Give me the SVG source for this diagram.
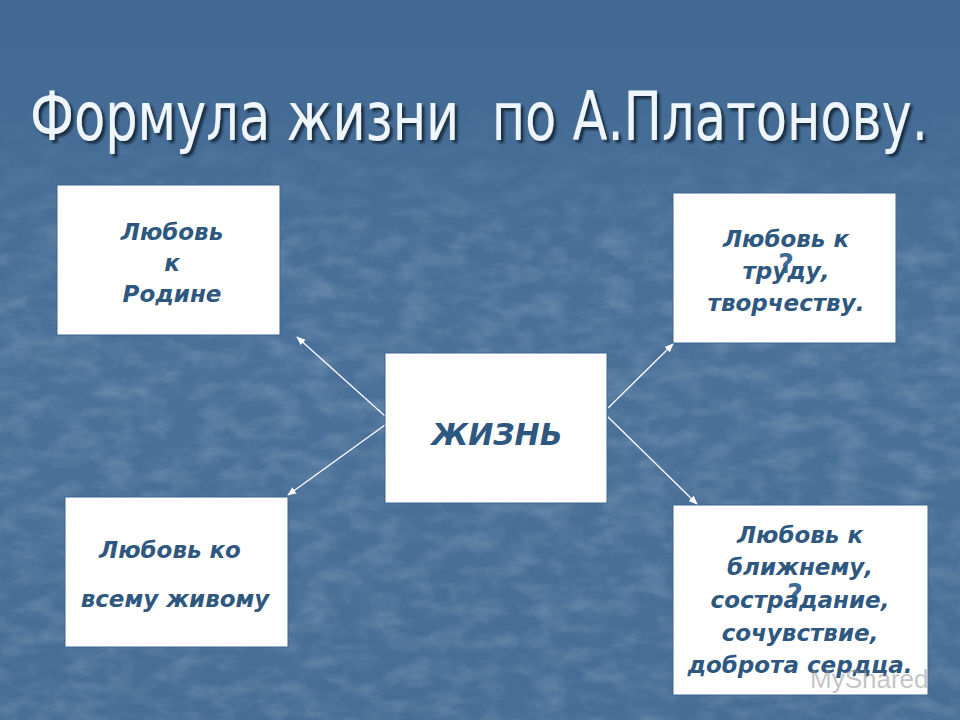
<svg xmlns="http://www.w3.org/2000/svg" width="960" height="720" viewBox="0 0 960 720">
<defs>
<linearGradient id="bg" x1="0" y1="0" x2="0" y2="1">
<stop offset="0" stop-color="#416993"/>
<stop offset="0.5" stop-color="#4a719a"/>
<stop offset="1" stop-color="#466d96"/>
</linearGradient>
<linearGradient id="fade" x1="0" y1="0" x2="0" y2="1">
<stop offset="0" stop-color="#000"/>
<stop offset="0.14" stop-color="#000"/>
<stop offset="0.35" stop-color="#fff"/>
<stop offset="1" stop-color="#fff"/>
</linearGradient>
<mask id="m" maskUnits="userSpaceOnUse" x="0" y="0" width="960" height="720">
<rect width="960" height="720" fill="url(#fade)"/>
</mask>
<filter id="tex" x="0" y="0" width="100%" height="100%">
<feTurbulence type="fractalNoise" baseFrequency="0.03 0.06" numOctaves="4" seed="7" result="n"/>
<feColorMatrix in="n" type="matrix" values="0 0 0 0 1  0 0 0 0 1  0 0 0 0 1  0 0 0 0.3 -0.11" result="w"/>
<feComposite in="w" in2="SourceGraphic" operator="in"/>
</filter>
<filter id="shadow" x="-10%" y="-40%" width="120%" height="180%">
<feDropShadow dx="3" dy="3" stdDeviation="1" flood-color="#102030" flood-opacity="0.8"/>
</filter>
<marker id="ah" viewBox="0 0 10 10" refX="9" refY="5" markerWidth="9" markerHeight="9" markerUnits="userSpaceOnUse" orient="auto">
<path d="M0,1 L10,5 L0,9 Z" fill="#ffffff"/>
</marker>
<style>
.box{fill:#ffffff;stroke:#3e6690;stroke-width:1}
.t{font-family:"DejaVu Sans","Liberation Sans",sans-serif;font-weight:bold;font-style:italic;font-size:23px;fill:#2e5880;text-anchor:middle}
.q{font-family:"DejaVu Sans","Liberation Sans",sans-serif;font-weight:bold;font-size:27px;fill:#3d6a96;text-anchor:middle}
.conn line{stroke:#ffffff;stroke-width:1.3;marker-end:url(#ah)}
</style>
</defs>
<rect width="960" height="720" fill="url(#bg)"/>
<g mask="url(#m)">
<rect width="960" height="720" fill="#ffffff" filter="url(#tex)"/>
</g>
<text x="30" y="140" xml:space="preserve" font-family="'DejaVu Sans Condensed','Liberation Sans Narrow','DejaVu Sans',sans-serif" font-size="68" fill="#eef6fb" textLength="898" lengthAdjust="spacingAndGlyphs" filter="url(#shadow)">Формула жизни  по А.Платонову.</text>
<g class="conn">
<line x1="385" y1="416" x2="297" y2="337"/>
<line x1="385" y1="425" x2="288" y2="495"/>
<line x1="608" y1="408" x2="673" y2="344"/>
<line x1="608" y1="417" x2="697" y2="504"/>
</g>
<g id="n1">
<rect class="box" x="57" y="185" width="223" height="150"/>
<text class="t" x="172" y="240">Любовь</text>
<text class="t" x="172" y="271">к</text>
<text class="t" x="172" y="302">Родине</text>
</g>
<g id="n2">
<rect class="box" x="673" y="193" width="223" height="150"/>
<text class="t" x="786" y="247">Любовь к</text>
<text class="q" x="786" y="273">?</text>
<text class="t" x="786" y="279">труду,</text>
<text class="t" x="786" y="311">творчеству.</text>
</g>
<g id="n3">
<rect class="box" x="385" y="353" width="222" height="150"/>
<text class="t" x="497" y="445" style="font-size:30px">ЖИЗНЬ</text>
</g>
<g id="n4">
<rect class="box" x="65" y="497" width="223" height="150"/>
<text class="t" x="170" y="558">Любовь ко</text>
<text class="t" x="175" y="607">всему живому</text>
</g>
<g id="n5">
<rect class="box" x="673" y="505" width="255" height="190"/>
<text class="t" x="800" y="543">Любовь к</text>
<text class="t" x="800" y="575">ближнему,</text>
<text class="q" x="795" y="603">?</text>
<text class="t" x="800" y="608">сострадание,</text>
<text class="t" x="800" y="641">сочувствие,</text>
<text class="t" x="800" y="673">доброта сердца.</text>
<text x="810" y="688" font-family="'Liberation Sans',sans-serif" font-size="26" fill="#8a8a8a" fill-opacity="0.5">MyShared</text>
</g>
</svg>
